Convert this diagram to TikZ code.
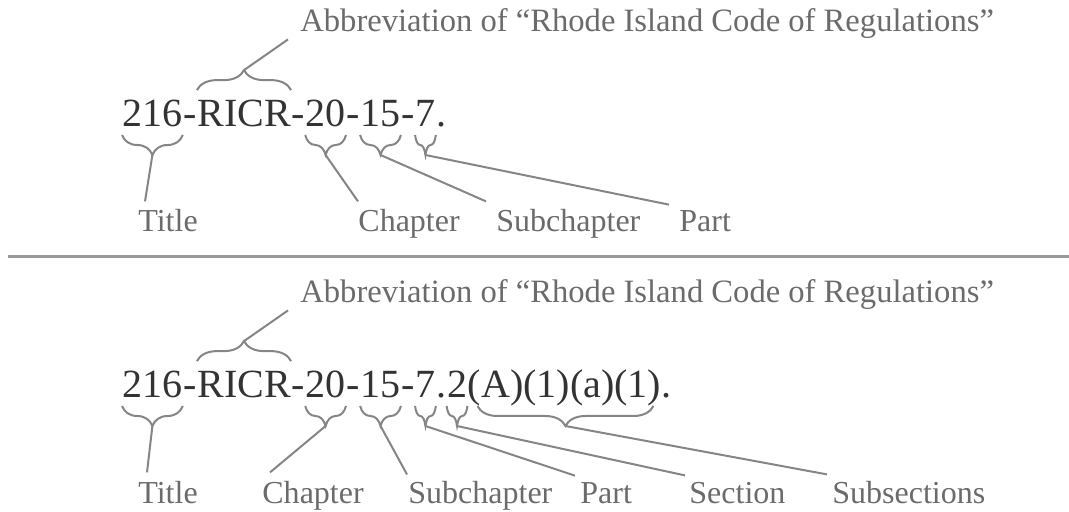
\documentclass[tikz,border=0pt]{standalone}
\usepackage{fontspec}
\setmainfont{Liberation Serif}
\usetikzlibrary{decorations.pathreplacing}

\begin{document}
\begin{tikzpicture}[x=0.5pt, y=-0.5pt,
    code/.style={anchor=base west, inner sep=0pt, text=black!80,
      font=\fontsize{20}{24}\selectfont},
    label text/.style={anchor=base west, inner sep=0pt, text=black!58,
      font=\fontsize{16}{19}\selectfont},
    abbrev/.style={label text, font=\fontsize{16.3}{19}\selectfont},
    brace above/.style={decorate, decoration={brace, amplitude=10pt},
      draw=black!48, line width=1pt},
    brace below/.style={decorate, decoration={brace, mirror, amplitude=10pt},
      draw=black!48, line width=1pt},
    connector/.style={draw=black!48, line width=1pt}]

  % picture frame (pixel grid of the reference)
  \useasboundingbox (0,0) rectangle (1069,512);

  % ===== Upper panel: part number =====
  \node[code] (a216) at (122,127) {216};
  \node[code] (ad1) at (a216.base east) {-};
  \node[code] (aricr) at (ad1.base east) {RICR};
  \node[code] (ad2) at (aricr.base east) {-};
  \node[code] (a20) at (ad2.base east) {20};
  \node[code] (ad3) at (a20.base east) {-};
  \node[code] (a15) at (ad3.base east) {15};
  \node[code] (ad4) at (a15.base east) {-};
  \node[code] (a7) at (ad4.base east) {7};
  \node[code] (aend) at (a7.base east) {.};

  % Brace over the abbreviation
  \draw[brace above] ([yshift=5pt]aricr.north west) -- ([yshift=5pt]aricr.north east);
  \coordinate (aricrtip) at ([yshift=15pt]aricr.north);

  % Braces under the numbers
  \draw[brace below] ([yshift=-4pt]a216.base west) -- ([yshift=-4pt]a216.base east);
  \coordinate (a216tip) at ([yshift=-14pt]a216.base);
  \draw[brace below] ([yshift=-4pt]a20.base west) -- ([yshift=-4pt]a20.base east);
  \coordinate (a20tip) at ([yshift=-14pt]a20.base);
  \draw[brace below] ([yshift=-4pt]a15.base west) -- ([yshift=-4pt]a15.base east);
  \coordinate (a15tip) at ([yshift=-14pt]a15.base);
  \draw[brace below] ([yshift=-4pt]a7.base west) -- ([yshift=-4pt]a7.base east);
  \coordinate (a7tip) at ([yshift=-14pt]a7.base);

  % Labels
  \node[abbrev] (aabbr) at (300,32) {Abbreviation of ``Rhode Island Code of Regulations''};
  \node[label text] (atitle) at (138,232) {Title};
  \node[label text] (achapter) at (358,232) {Chapter};
  \node[label text] (asubch) at (496,232) {Subchapter};
  \node[label text] (apart) at (679,232) {Part};

  \draw[connector] (aricrtip) -- ([xshift=-6pt]aabbr.south west);
  \draw[connector] (a216tip) -- ([shift={(3.5pt,4pt)}]atitle.north west);
  \draw[connector] (a20tip) -- ([yshift=4pt]achapter.north west);
  \draw[connector] (a15tip) -- ([shift={(-5pt,4pt)}]asubch.north west);
  \draw[connector] (a7tip) -- ([shift={(-5pt,3pt)}]apart.north west);

  % ===== Separator =====
  \draw[black!40, line width=1.5pt] (8,257) -- (1069,257);

  % ===== Lower panel: subsection number =====
  \begin{scope}[shift={(0,271)}]
    \node[code] (b216) at (122,127) {216};
    \node[code] (bd1) at (b216.base east) {-};
    \node[code] (bricr) at (bd1.base east) {RICR};
    \node[code] (bd2) at (bricr.base east) {-};
    \node[code] (b20) at (bd2.base east) {20};
    \node[code] (bd3) at (b20.base east) {-};
    \node[code] (b15) at (bd3.base east) {15};
    \node[code] (bd4) at (b15.base east) {-};
    \node[code] (b7) at (bd4.base east) {7};
    \node[code] (bdot) at (b7.base east) {.};
    \node[code] (b2) at (bdot.base east) {2};
    \node[code] (bsubs) at (b2.base east) {(A)(1)(a)(1)};
    \node[code] (bend) at (bsubs.base east) {.};

    % Brace over the abbreviation
    \draw[brace above] ([yshift=5pt]bricr.north west) -- ([yshift=5pt]bricr.north east);
    \coordinate (bricrtip) at ([yshift=15pt]bricr.north);

    % Braces under the numbers
    \draw[brace below] ([yshift=-4pt]b216.base west) -- ([yshift=-4pt]b216.base east);
    \coordinate (b216tip) at ([yshift=-14pt]b216.base);
    \draw[brace below] ([yshift=-4pt]b20.base west) -- ([yshift=-4pt]b20.base east);
    \coordinate (b20tip) at ([yshift=-14pt]b20.base);
    \draw[brace below] ([yshift=-4pt]b15.base west) -- ([yshift=-4pt]b15.base east);
    \coordinate (b15tip) at ([yshift=-14pt]b15.base);
    \draw[brace below] ([yshift=-4pt]b7.base west) -- ([yshift=-4pt]b7.base east);
    \coordinate (b7tip) at ([yshift=-14pt]b7.base);
    \draw[brace below] ([yshift=-4pt]b2.base west) -- ([yshift=-4pt]b2.base east);
    \coordinate (b2tip) at ([yshift=-14pt]b2.base);
    \draw[brace below] ([shift={(5pt,-4pt)}]bsubs.base west) -- ([shift={(-4pt,-4pt)}]bsubs.base east);
    \coordinate (bsubstip) at ([shift={(0.5pt,-14pt)}]bsubs.base);

    % Labels
    \node[abbrev] (babbr) at (300,32) {Abbreviation of ``Rhode Island Code of Regulations''};
    \node[label text] (btitle) at (138,232) {Title};
    \node[label text] (bchapter) at (262,232) {Chapter};
    \node[label text] (bsubch) at (408,232) {Subchapter};
    \node[label text] (bpart) at (580,232) {Part};
    \node[label text] (bsection) at (689,232) {Section};
    \node[label text] (bsubsec) at (832,232) {Subsections};

    \draw[connector] (bricrtip) -- ([xshift=-6pt]babbr.south west);
    \draw[connector] (b216tip) -- ([shift={(4.5pt,4pt)}]btitle.north west);
    \draw[connector] (b20tip) -- ([shift={(4pt,4pt)}]bchapter.north west);
    \draw[connector] (b15tip) -- ([shift={(-0.5pt,3pt)}]bsubch.north west);
    \draw[connector] (b7tip) -- ([shift={(-2.5pt,3pt)}]bpart.north west);
    \draw[connector] (b2tip) -- ([shift={(-2pt,3pt)}]bsection.north west);
    \draw[connector] (bsubstip) -- ([shift={(-2.5pt,3pt)}]bsubsec.north west);
  \end{scope}

\end{tikzpicture}
\end{document}
